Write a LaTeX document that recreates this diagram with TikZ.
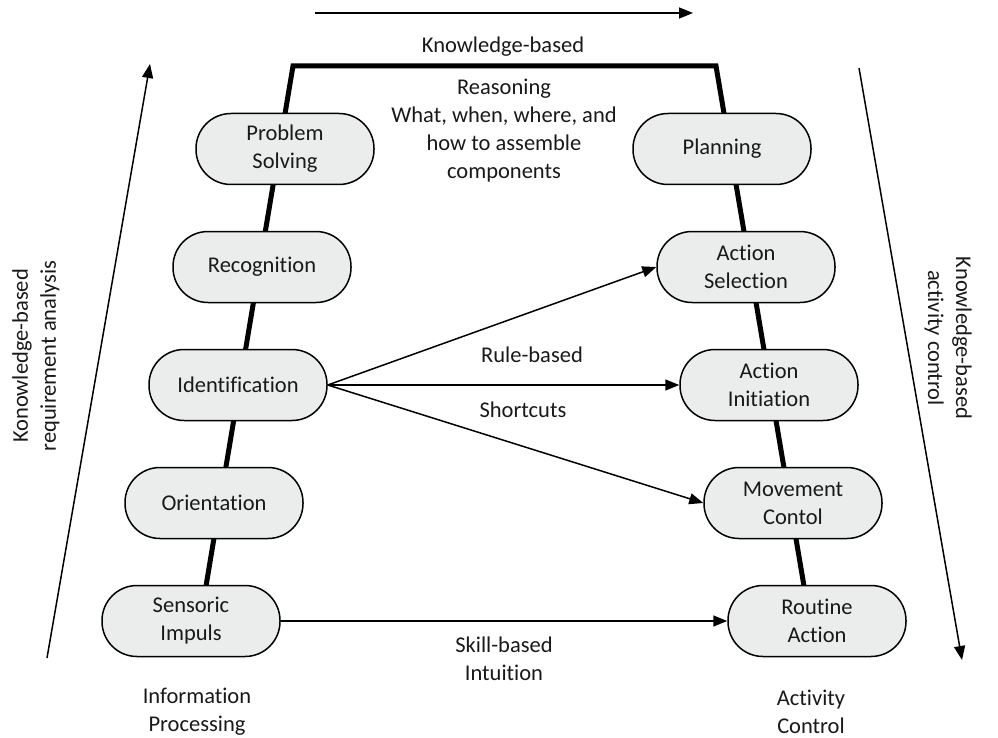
\documentclass[tikz,border=0pt]{standalone}
\usepackage{fontspec}
\setmainfont{Carlito}[Ligatures=NoCommon]
\usetikzlibrary{arrows.meta}
\definecolor{boxgray}{RGB}{235,236,236}
\definecolor{ink}{RGB}{25,25,25}
\newcommand\dgfont{\fontsize{22.5}{28}\selectfont}
\begin{document}
\begin{tikzpicture}[x=1pt,y=-1pt,
  proc/.style={draw=black, line width=1.5pt, fill=boxgray, rounded corners=35pt,
    minimum width=178pt, minimum height=71pt, align=center, inner sep=0pt,
    font=\dgfont, text=ink},
  lbl/.style={align=center, font=\dgfont, text=ink, inner sep=0pt},
  spine/.style={line width=5pt, line join=miter},
  conn/.style={line width=1.5pt, -{Triangle[length=14pt,width=11pt]}},
  ]
\useasboundingbox (0,0) rectangle (998,738);
% spine coordinates
\coordinate (sl) at (205,592);
\coordinate (tl) at (293,66);
\coordinate (tr) at (716,66);
\coordinate (sr) at (805,592);
\draw[spine] (sl) -- (tl) -- (tr) -- (sr);
% left column
\node[proc] (ps) at (285,149) {Problem\\Solving};
\node[proc] (rec) at (262,267) {Recognition};
\node[proc] (id) at (238,385) {Identification};
\node[proc] (ori) at (214,503) {Orientation};
\node[proc] (si) at (191,621) {Sensoric\\Impuls};
% right column
\node[proc] (pl) at (722,149) {Planning};
\node[proc] (as) at (746,267) {Action\\Selection};
\node[proc] (ai) at (769,385) {Action\\Initiation};
\node[proc] (mc) at (793,503) {Movement\\Contol};
\node[proc] (ra) at (817,621) {Routine\\Action};
% connectors
\draw[conn] (id.east) -- (as.west);
\draw[conn] (id.east) -- (ai.west);
\draw[conn] (id.east) -- (mc.west);
\draw[conn] (si.east) -- (ra.west);
% labels
\node[lbl] (kb) at (503,47) {Knowledge-based};
\node[lbl] (reas) at (504,131) {Reasoning\\What, when, where, and\\how to assemble\\components};
\node[lbl] (rb) at (532,355) {Rule-based};
\node[lbl] (sc) at (523,410) {Shortcuts};
\node[lbl] (sk) at (504,659) {Skill-based\\Intuition};
\node[lbl] (ip) at (197,712) {Information\\Processing};
\node[lbl] (ac) at (811,712) {Activity\\Control};
\node[lbl, rotate=90] (lt) at (36,356) {Konowledge-based\\requirement analysis};
\node[lbl, rotate=-90] (rt) at (948,338) {Knowledge-based\\activity control};
% side and top arrows
\coordinate (ta) at (315,13);
\coordinate (tb) at (693,13);
\draw[conn] (ta) -- (tb);
\coordinate (la) at (47,658);
\coordinate (lb) at (150,64);
\draw[conn] (la) -- (lb);
\coordinate (ra1) at (859,68);
\coordinate (ra2) at (962,660);
\draw[conn] (ra1) -- (ra2);
\end{tikzpicture}
\end{document}
